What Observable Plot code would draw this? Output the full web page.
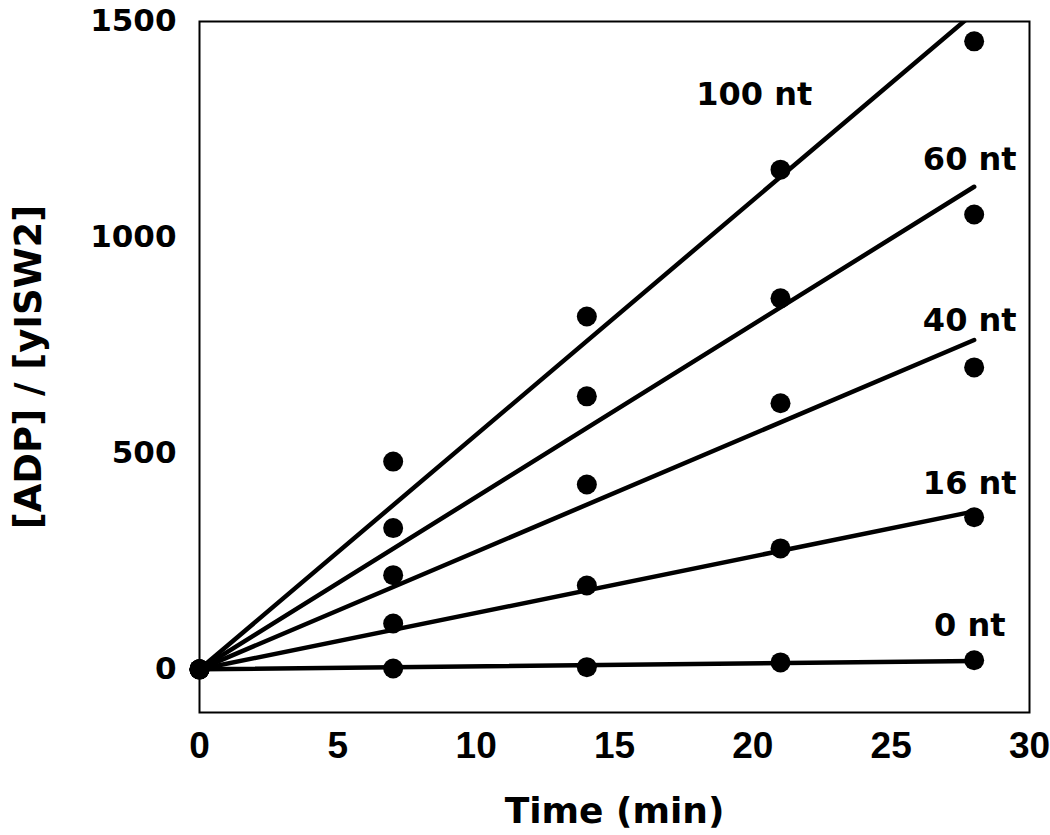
<!DOCTYPE html>
<html>
<head>
<meta charset="utf-8">
<script src="https://cdn.jsdelivr.net/npm/d3@7"></script>
<script src="https://cdn.jsdelivr.net/npm/@observablehq/plot@0.6"></script>
<style>
  html, body { margin: 0; padding: 0; background: #fff; }
</style>
</head>
<body>
<div id="chart"></div>
<script>
// Data
const times = [0, 7, 14, 21, 28];
const seriesNames = ["0 nt", "16 nt", "40 nt", "60 nt", "100 nt"];
const adp0 = [0, 2, 5, 16, 21];
const adp16 = [0, 106, 194, 280, 352];
const adp40 = [0, 218, 428, 616, 699];
const adp60 = [0, 327, 632, 859, 1053];
const adp100 = [0, 481, 817, 1157, 1454];
const seriesValues = [adp0, adp16, adp40, adp60, adp100];
// label anchors in data units
const labelX = [27.84, 27.84, 27.84, 27.84, 20.05];
const labelY = [101, 429, 807, 1181, 1330];
const xTicks = [0, 5, 10, 15, 20, 25, 30];
const yTicks = [0, 500, 1000, 1500];
const xTitle = "Time (min)";
const yTitle = "[ADP] / [yISW2]";

// Table of points
const points = [];
seriesNames.forEach((s, i) => {
  times.forEach((t, j) => points.push({series: s, t, v: seriesValues[i][j]}));
});

// Least-squares lines through origin, drawn over the data range
const fits = [];
seriesNames.forEach((s, i) => {
  const vals = seriesValues[i];
  const sxy = d3.sum(times, (t, j) => t * vals[j]);
  const sxx = d3.sum(times, t => t * t);
  const k = sxy / sxx;
  const tMax = d3.max(times);
  fits.push({series: s, t: 0, v: 0});
  fits.push({series: s, t: tMax, v: k * tMax});
});

const labels = seriesNames.map((s, i) => ({text: s, x: labelX[i], y: labelY[i]}));

const chart = Plot.plot({
  width: 1050,
  height: 835,
  marginLeft: 199,
  marginRight: 21,
  marginTop: 21,
  marginBottom: 123,
  x: {domain: [0, 30], ticks: xTicks},
  y: {domain: [-100, 1500], ticks: yTicks},
  style: {fontFamily: "DejaVu Sans", fontWeight: "bold", background: "white", color: "black"},
  marks: [
    Plot.frame({stroke: "black", strokeWidth: 2}),
    Plot.axisX(xTicks, {tickSize: 0, tickPadding: 19, fontSize: 37, fontFamily: "Liberation Sans", label: null, tickFormat: d3.format("d")}),
    Plot.axisY(yTicks, {tickSize: 0, tickPadding: 23, fontSize: 31, label: null, tickFormat: d3.format("d")}),
    Plot.line(fits, {x: "t", y: "v", z: "series", stroke: "black", strokeWidth: 4.5, clip: true}),
    Plot.dot(points, {x: "t", y: "v", r: 10, fill: "black", stroke: null}),
    Plot.text(labels, {x: "x", y: "y", text: "text", fontSize: 32, fill: "black"}),
    Plot.text([xTitle], {frameAnchor: "bottom", textAnchor: "middle", lineAnchor: "middle", dy: 99, fontSize: 36, fill: "black"}),
    Plot.text([yTitle], {frameAnchor: "left", textAnchor: "middle", lineAnchor: "middle", dx: -170, rotate: -90, fontSize: 37, fill: "black"})
  ]
});
document.getElementById("chart").appendChild(chart);
</script>
</body>
</html>
